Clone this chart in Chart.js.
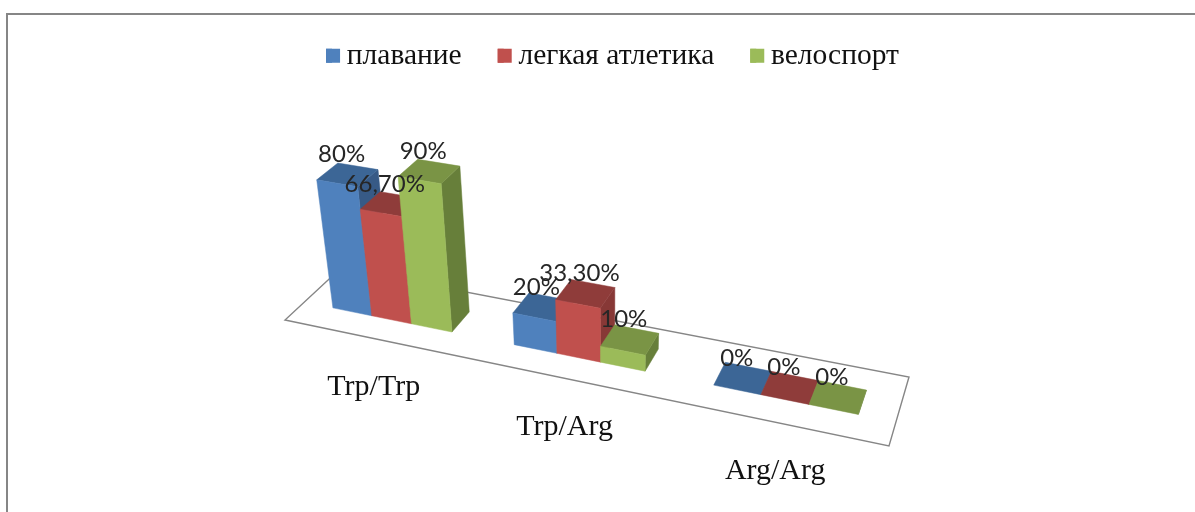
<!DOCTYPE html>
<html>
<head>
<meta charset="utf-8">
<style>html,body{margin:0;padding:0;background:#fff}#wrap{width:1195px;height:512px;position:relative}</style>
<script src="https://cdn.jsdelivr.net/npm/chart.js@4/dist/chart.umd.min.js"></script>
</head>
<body>
<div id="wrap"><canvas id="c" width="1195" height="512"></canvas></div>
<script>
const categories = ['Trp/Trp', 'Trp/Arg', 'Arg/Arg'];
const seriesNames = ['плавание', 'легкая атлетика', 'велоспорт'];
const swimming = [80, 20, 0];
const athletics = [66.7, 33.3, 0];
const cycling = [90, 10, 0];
const frontColors = ['#4F81BD', '#C0504D', '#9BBB59'];
const topColors = ['#3C6696', '#8F3C3A', '#7A9445'];
const sideColors = ['#375A86', '#873836', '#677F3A'];

// Camera: where the floor's corners land on screen and where verticals converge.
const floorCorners = [[285, 320], [889, 446], [909, 377], [341, 268]];
const verticalVanish = [610, 2500];
const liftStrength = 0.07;
const depthRange = [0.33, 0.69];
const legendSwatch = 14;

function floorHomography(q) {
  const [[x0, y0], [x1, y1], [x2, y2], [x3, y3]] = q;
  const dx1 = x1 - x2, dx2 = x3 - x2, sx = x0 - x1 + x2 - x3;
  const dy1 = y1 - y2, dy2 = y3 - y2, sy = y0 - y1 + y2 - y3;
  const det = dx1 * dy2 - dx2 * dy1;
  const g = (sx * dy2 - dx2 * sy) / det;
  const h = (dx1 * sy - sx * dy1) / det;
  return {
    a: x1 - x0 + g * x1, b: x3 - x0 + h * x3, c: x0,
    d: y1 - y0 + g * y1, e: y3 - y0 + h * y3, f: y0, g, h
  };
}
const H = floorHomography(floorCorners);

// u along the categories, v up the value axis, w into the depth of the floor.
function project(u, v, w) {
  const k = v * liftStrength;
  const X = H.a * u + H.b * w + H.c - k * verticalVanish[0];
  const Y = H.d * u + H.e * w + H.f - k * verticalVanish[1];
  const Z = H.g * u + H.h * w + 1 - k;
  return [X / Z, Y / Z];
}

function poly(ctx, pts, fill, stroke) {
  ctx.beginPath();
  pts.forEach((p, i) => i ? ctx.lineTo(p[0], p[1]) : ctx.moveTo(p[0], p[1]));
  ctx.closePath();
  if (fill) { ctx.fillStyle = fill; ctx.fill(); }
  if (stroke) { ctx.strokeStyle = stroke; ctx.lineWidth = fill ? 0.5 : 1.4; ctx.stroke(); }
}

function percentText(value) {
  return (Number.isInteger(value) ? String(value) : value.toFixed(2).replace('.', ',')) + '%';
}

const perspectiveBars = {
  id: 'perspectiveBars',
  beforeDraw(chart) {
    const ctx = chart.ctx;
    ctx.save();
    ctx.fillStyle = '#868686';
    ctx.fillRect(6, 13, 2, 499);
    ctx.fillRect(6, 13, 1189, 2);
    ctx.restore();
  },
  beforeDatasetsDraw(chart) {
    const ctx = chart.ctx, area = chart.chartArea;
    const toU = x => (x - area.left) / area.width;
    const toV = y => (area.bottom - y) / area.height;
    const [w0, w1] = depthRange;

    ctx.save();
    poly(ctx, [project(0, 0, 0), project(1, 0, 0), project(1, 0, 1), project(0, 0, 1)], null, '#868686');

    const labels = [];
    categories.forEach((name, ci) => {
      chart.data.datasets.forEach((ds, si) => {
        const bar = chart.getDatasetMeta(si).data[ci];
        const p = bar.getProps(['x', 'y', 'base', 'width']);
        const u0 = toU(p.x - p.width / 2), u1 = toU(p.x + p.width / 2);
        const v0 = toV(p.base), v1 = toV(p.y);
        poly(ctx, [project(u1, v0, w0), project(u1, v0, w1), project(u1, v1, w1), project(u1, v1, w0)], sideColors[si], sideColors[si]);
        poly(ctx, [project(u0, v1, w0), project(u1, v1, w0), project(u1, v1, w1), project(u0, v1, w1)], topColors[si], topColors[si]);
        if (v1 > v0) {
          poly(ctx, [project(u0, v0, w0), project(u1, v0, w0), project(u1, v1, w0), project(u0, v1, w0)], frontColors[si], frontColors[si]);
        }
        const c = project((u0 + u1) / 2, v1, (w0 + w1) / 2);
        labels.push([percentText(ds.data[ci]), c[0] - 6, c[1] - 20]);
      });
    });

    ctx.fillStyle = '#262626';
    ctx.font = '24px Lato';
    ctx.textAlign = 'center';
    ctx.textBaseline = 'middle';
    labels.forEach(l => ctx.fillText(l[0], l[1], l[2]));

    const xScale = chart.scales.x;
    ctx.fillStyle = '#111111';
    ctx.font = '30px "Liberation Serif"';
    categories.forEach((name, ci) => {
      const q = project(toU(xScale.getPixelForTick(ci)), 0, 0);
      ctx.fillText(name, q[0], q[1] + 49);
    });
    ctx.restore();
    return false;
  },
  afterDraw(chart) {
    // Widen the legend swatches without moving their captions.
    const ctx = chart.ctx, legend = chart.legend;
    ctx.save();
    legend.legendHitBoxes.forEach((box, i) => {
      ctx.fillStyle = frontColors[i];
      ctx.fillRect(box.left, box.top + (box.height - legendSwatch) / 2, legendSwatch, legendSwatch);
    });
    ctx.restore();
  }
};

const seriesValues = [swimming, athletics, cycling];
new Chart(document.getElementById('c'), {
  type: 'bar',
  data: {
    labels: categories,
    datasets: seriesNames.map((label, i) => ({
      label,
      data: seriesValues[i],
      backgroundColor: frontColors[i],
      borderWidth: 0,
      categoryPercentage: 0.667,
      barPercentage: 1
    }))
  },
  plugins: [perspectiveBars],
  options: {
    responsive: false,
    animation: false,
    layout: { padding: { left: 30, top: 5 } },
    scales: {
      x: { display: false },
      y: { display: false, min: 0, max: 100 }
    },
    plugins: {
      tooltip: { enabled: false },
      legend: {
        position: 'top',
        labels: {
          boxWidth: 6,
          boxHeight: legendSwatch,
          padding: 36,
          color: '#111111',
          font: { family: '"Liberation Serif"', size: 29.5 }
        }
      }
    }
  }
});
</script>
</body>
</html>
